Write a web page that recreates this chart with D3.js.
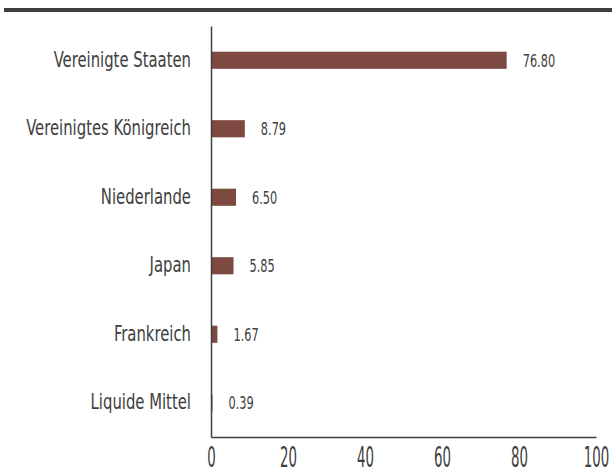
<!DOCTYPE html>
<html><head><meta charset="utf-8">
<script src="https://cdn.jsdelivr.net/npm/d3@7"></script>
<style>
body{margin:0;background:#fff;}
text{font-family:"DejaVu Sans Condensed","DejaVu Sans",sans-serif;font-stretch:condensed;fill:#404040;}
</style></head>
<body><svg id="c" width="612" height="475"></svg>
<script>
const categories = ["Vereinigte Staaten","Vereinigtes Königreich","Niederlande","Japan","Frankreich","Liquide Mittel"];
const values = [76.80, 8.79, 6.50, 5.85, 1.67, 0.39];
const xTicks = [0,20,40,60,80,100];

const svg = d3.select("#c");
const W = 612, H = 475;
const m = {left:211, right:16, top:26, bottom:38};
const x = d3.scaleLinear().domain([0,100]).range([m.left, W-m.right]);
const y = d3.scaleBand().domain(categories).range([m.top, H-m.bottom]).paddingInner(0.75).paddingOuter(0.375);

// horizontal squeeze to mimic a condensed face
function squeeze(sel, sx){
  sel.each(function(){
    const t = d3.select(this);
    const x0 = +t.attr("x") || 0;
    t.attr("x", x0/sx).attr("transform", `scale(${sx},1)`);
  });
}

svg.append("rect").attr("x",4).attr("y",8).attr("width",608).attr("height",4).attr("fill","#404040");

svg.selectAll("rect.bar").data(values).join("rect").attr("class","bar")
  .attr("x",x(0)).attr("y",(d,i)=>y(categories[i]))
  .attr("width",d=>x(d)-x(0)).attr("height",y.bandwidth()).attr("fill","#7e4941");

const vg = svg.selectAll("g.val").data(values).join("g").attr("class","val")
  .attr("transform",(d,i)=>`translate(${x(d)+16},${y(categories[i])+y.bandwidth()/2})`);
vg.append("text").attr("dy","0.36em").attr("font-size",18).text(d=>d.toFixed(2));
squeeze(vg.selectAll("text"), 0.7);

const ya = svg.append("g").attr("transform",`translate(${m.left},0)`)
  .call(d3.axisLeft(y).tickSize(0).tickPadding(20));
ya.select(".domain").attr("stroke","#404040").attr("stroke-width",1.5);
ya.selectAll("text").attr("font-size",20.5).attr("fill","#404040");
squeeze(ya.selectAll("text"), 0.805);

const xa = svg.append("g").attr("transform",`translate(0,${H-m.bottom})`)
  .call(d3.axisBottom(x).tickValues(xTicks).tickSize(0).tickPadding(10));
xa.select(".domain").attr("stroke","#404040").attr("stroke-width",1.5);
xa.selectAll("text").attr("font-size",28).attr("fill","#404040");
squeeze(xa.selectAll("text"), 0.53);
ya.attr("font-family",null); xa.attr("font-family",null);
</script></body></html>
